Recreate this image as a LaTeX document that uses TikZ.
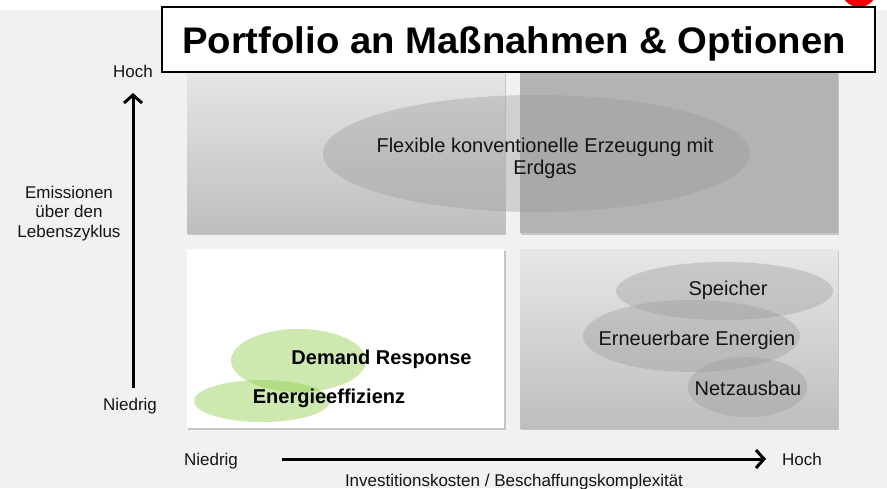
\documentclass[tikz,border=0pt]{standalone}
\usepackage{fontspec}
\setmainfont{Liberation Sans}
\usetikzlibrary{arrows.meta,shapes.geometric}

\definecolor{pagebg}{HTML}{F1F1F1}
\definecolor{cellhigh}{HTML}{B3B3B3}
\definecolor{celltop}{HTML}{E7E7E7}
\definecolor{cellbot}{HTML}{BEBEBE}
\definecolor{blobgray}{HTML}{9B9B9B}
\definecolor{blobgreen}{HTML}{92D050}
\definecolor{marker}{HTML}{F20000}
\definecolor{ink}{HTML}{141414}

\tikzset{
  cellshadow/.style={fill=black, fill opacity=0.18, draw=none},
  greyblob/.style={ellipse, draw=none, fill=blobgray, fill opacity=0.38, inner sep=0pt},
  greenblob/.style={ellipse, draw=none, fill=blobgreen, fill opacity=0.45, inner sep=0pt},
  lbl/.style={font=\fontsize{20}{22}\selectfont, text=ink, anchor=base, inner sep=0pt, align=center},
  boldlbl/.style={font=\bfseries\fontsize{20}{22}\selectfont, text=black, anchor=base, inner sep=0pt},
  axislbl/.style={font=\fontsize{17}{19.5}\selectfont, text=ink, anchor=base, inner sep=0pt, align=center},
  axisarrow/.style={line width=3pt, -{Straight Barb[length=8pt, width=18pt, line width=3pt]}},
}

\begin{document}
\begin{tikzpicture}[x=1pt, y=-1pt]
  % page background
  \fill[pagebg] (0,0) rectangle (887,488);
  \fill[white] (0,0) rectangle (887,10);
  \useasboundingbox (0,0) rectangle (887,488);

  % matrix cells with soft shadows
  \fill[cellshadow] (188,68) rectangle (506,235);
  \fill[cellshadow] (521,68) rectangle (839,235);
  \fill[cellshadow] (188,251) rectangle (506,430);
  \fill[cellshadow] (521,251) rectangle (839,430);

  \shade[top color=celltop, bottom color=cellbot] (187,66) rectangle (505,233);
  \fill[cellhigh] (520,66) rectangle (838,233);
  \fill[white] (187,249) rectangle (504,428);
  \shade[top color=celltop, bottom color=cellbot] (520,249) rectangle (838,428);

  % measures as overlapping ellipses
  \node[greyblob, minimum width=427pt, minimum height=117pt] (gas) at (536.5,153.5) {};
  \node[greyblob, minimum width=217pt, minimum height=58pt] (storage) at (724.5,291) {};
  \node[greyblob, minimum width=217pt, minimum height=72pt] (renew) at (691.5,336) {};
  \node[greyblob, minimum width=119pt, minimum height=60pt] (grid) at (747.5,387) {};
  \node[greenblob, minimum width=135pt, minimum height=63pt] (dr) at (298.5,360.5) {};
  \node[greenblob, minimum width=136pt, minimum height=42pt] (eff) at (262,401) {};

  % labels of the measures (base anchor sits on the last line)
  \node[lbl] (gastxt) at (545,174) {Flexible konventionelle Erzeugung mit\\Erdgas};
  \node[lbl] (storagetxt) at (728,295) {Speicher};
  \node[lbl] (renewtxt) at (697,345) {Erneuerbare Energien};
  \node[lbl] (gridtxt) at (748,395) {Netzausbau};
  \node[boldlbl] (drtxt) at (381.5,364) {Demand Response};
  \node[boldlbl] (efftxt) at (329,403) {Energieeffizienz};

  % vertical axis
  \coordinate (ylow) at (133,388);
  \coordinate (yhigh) at (133,93);
  \draw[axisarrow] (ylow) -- (yhigh);
  \node[axislbl] (yhightxt) at (133,77) {Hoch};
  \node[axislbl] (ylowtxt) at (130,410) {Niedrig};
  \node[axislbl] (ytitle) at (69,237) {Emissionen\\über den\\Lebenszyklus};

  % horizontal axis
  \coordinate (xlow) at (282,459);
  \coordinate (xhigh) at (766,459);
  \draw[axisarrow] (xlow) -- (xhigh);
  \node[axislbl] (xlowtxt) at (211,465) {Niedrig};
  \node[axislbl] (xhightxt) at (802,465) {Hoch};
  \node[axislbl] (xtitle) at (514,486) {Investitionskosten / Beschaffungskomplexität};

  % marker peeking out behind the heading
  \fill[marker] (859,-11) circle (18);

  % heading
  \node[draw=black, line width=2pt, fill=white, minimum width=713pt, minimum height=65pt, inner sep=0pt] (head) at (518,39) {};
  \node[font=\bfseries\fontsize{37}{40}\selectfont, anchor=base, inner sep=0pt] (headtxt) at (514,53) {\scalebox{1.035}[1]{Portfolio an Maßnahmen \& Optionen}};
\end{tikzpicture}
\end{document}
